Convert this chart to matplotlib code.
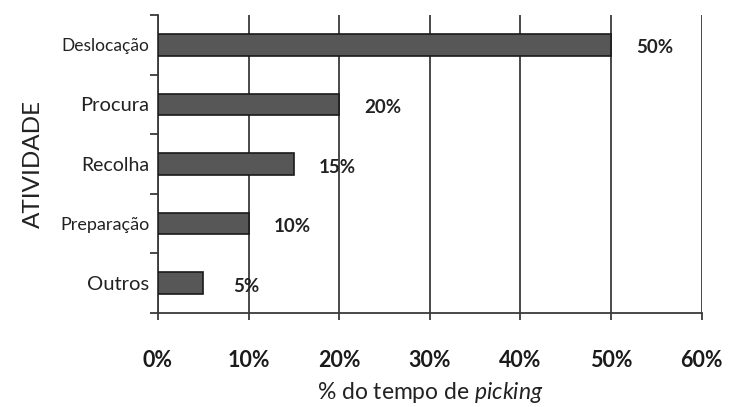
import matplotlib
matplotlib.use("Agg")
import matplotlib.pyplot as plt
from matplotlib.ticker import MultipleLocator, PercentFormatter

plt.rcParams['font.family'] = ['Lato', 'DejaVu Sans']
plt.rcParams['mathtext.fontset'] = 'custom'
plt.rcParams['mathtext.rm'] = 'Lato'
plt.rcParams['mathtext.it'] = 'Lato:italic'

atividades = ["Outros", "Preparação", "Recolha", "Procura", "Deslocação"]
tempo = [5, 10, 15, 20, 50]
rotulos = ["5%", "10%", "15%", "20%", "50%"]
tamanhos = [14.5, 13, 14, 14.5, 12.5]

fig = plt.figure(figsize=(7.31, 4.07), dpi=100)
ax = fig.add_axes([0.216, 0.231, 0.744, 0.732])

pos = range(len(atividades))
ax.barh(pos, tempo, height=0.36, color="#575757", edgecolor="#1a1a1a", linewidth=1.2, zorder=3)

for y, v, txt in zip(pos, tempo, rotulos):
    ax.text(v + 4.8, y - 0.05, txt, ha="center", va="center",
            fontsize=13.5, fontweight="bold", color="#222222")

ax.set_xlim(0, 60)
ax.set_ylim(-0.5, len(atividades) - 0.5)

ax.xaxis.set_major_locator(MultipleLocator(10))
ax.xaxis.set_major_formatter(PercentFormatter(decimals=0))
ax.grid(axis="x", color="#3a3a3a", linewidth=1.3, zorder=1)

ax.set_yticks(list(pos))
ax.set_yticklabels(atividades)
for lbl, fs in zip(ax.get_yticklabels(), tamanhos):
    lbl.set_fontsize(fs)
    lbl.set_color("#222222")
ax.set_yticks([p - 0.5 for p in range(len(atividades) + 1)], minor=True)
ax.tick_params(axis="y", which="major", length=0, pad=6)
ax.tick_params(axis="y", which="minor", length=6, width=1.3, color="#3a3a3a")
ax.tick_params(axis="x", length=5, width=1.3, color="#3a3a3a", pad=22,
               labelsize=15.5)
for lbl in ax.get_xticklabels():
    lbl.set_fontweight("bold")
    lbl.set_color("#1a1a1a")

for side in ["top", "right"]:
    ax.spines[side].set_visible(False)
for side in ["left", "bottom"]:
    ax.spines[side].set_color("#3a3a3a")
    ax.spines[side].set_linewidth(1.3)

ax.set_ylabel("ATIVIDADE", fontsize=17.5, color="#222222", labelpad=12)
ax.set_xlabel(r"% do tempo de $\it{picking}$", fontsize=16.5, color="#222222", labelpad=6)

fig.savefig("out.png", dpi=100)
